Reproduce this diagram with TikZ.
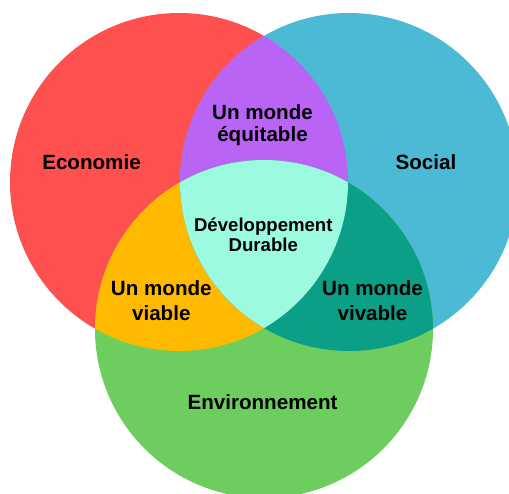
\documentclass[tikz,border=0pt]{standalone}
\usepackage{fontspec}
\setmainfont{Liberation Sans}
\definecolor{cred}{HTML}{FF5050}
\definecolor{cblue}{HTML}{4CBAD5}
\definecolor{cgreen}{HTML}{6DCE5F}
\definecolor{cpurple}{HTML}{BA64F5}
\definecolor{cyellow}{HTML}{FFBA00}
\definecolor{cteal}{HTML}{0A9F86}
\definecolor{caqua}{HTML}{9BFADF}
\tikzset{
  lbl/.style={font=\fontsize{20.6}{24}\selectfont\bfseries, text=black, inner sep=0pt, anchor=base},
  lblsmall/.style={font=\fontsize{18.6}{22}\selectfont\bfseries, text=black, inner sep=0pt, anchor=base},
}
\begin{document}
\begin{tikzpicture}[x=1pt,y=-1pt]
\useasboundingbox (0,0) rectangle (509,494);
\clip (0,0) rectangle (509,494);
\def\R{169}
\coordinate (cr) at (179,182);
\coordinate (cb) at (349,182);
\coordinate (cg) at (264,329);
\fill[cred] (cr) circle (\R);
\fill[cblue] (cb) circle (\R);
\fill[cgreen] (cg) circle (\R);
\begin{scope}
  \clip (cr) circle (\R);
  \fill[cpurple] (cb) circle (\R);
\end{scope}
\begin{scope}
  \clip (cr) circle (\R);
  \fill[cyellow] (cg) circle (\R);
\end{scope}
\begin{scope}
  \clip (cb) circle (\R);
  \fill[cteal] (cg) circle (\R);
\end{scope}
\begin{scope}
  \clip (cr) circle (\R);
  \clip (cb) circle (\R);
  \fill[caqua] (cg) circle (\R);
\end{scope}
\node[lbl] (eco) at (91.5,169.5) {Economie};
\node[lbl] (soc) at (426,169.5) {Social};
\node[lbl] (env) at (262.5,409.5) {Environnement};
\node[lbl] (eq1) at (262.5,119.5) {Un monde};
\node[lbl] (eq2) at (262.5,142) {équitable};
\node[lblsmall] (dd1) at (263.3,232) {Développement};
\node[lblsmall] (dd2) at (263.3,252) {Durable};
\node[lbl] (via1) at (161.3,296) {Un monde};
\node[lbl] (via2) at (161.3,320.5) {viable};
\node[lbl] (viv1) at (372.5,296) {Un monde};
\node[lbl] (viv2) at (372.5,320.5) {vivable};
\end{tikzpicture}
\end{document}
